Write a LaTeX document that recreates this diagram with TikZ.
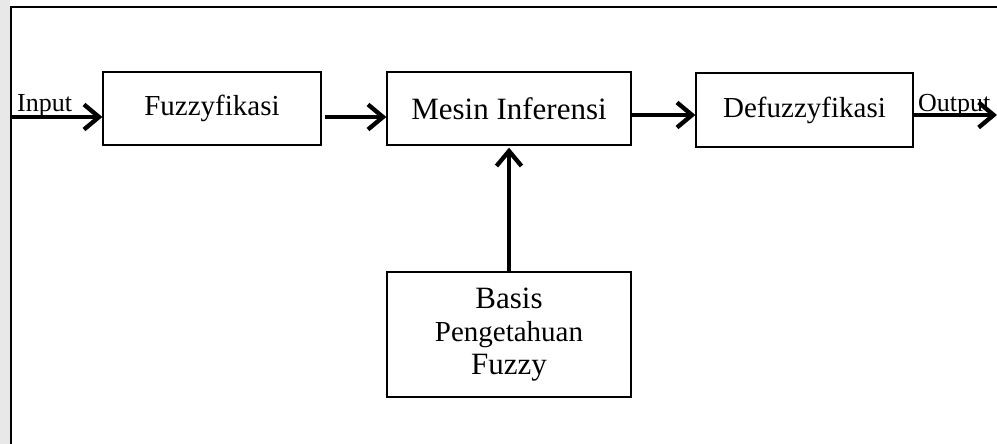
\documentclass[tikz,border=0pt]{standalone}
\usepackage{fontspec}
\setmainfont{Liberation Serif}
\usetikzlibrary{arrows.meta}
\begin{document}
\begin{tikzpicture}[x=1pt,y=-1pt,
  blk/.style={draw,line width=1.3pt,minimum width=#1,inner sep=0pt,font=\fontsize{29}{33}\selectfont,align=center},
  conn/.style={line width=4.3pt,-{Straight Barb[length=15pt,width=25pt,line width=4.3pt]}},
  lbl/.style={inner sep=0pt,font=\fontsize{26}{30}\selectfont}]
\useasboundingbox (0,0) rectangle (997,444);
\fill[gray!18] (0,0) rectangle (10,444);
\draw[line width=2.8pt] (997,7) -- (11,7) -- (11,444);
\node[blk=218pt,minimum height=73pt] (fuzz) at (212,108.5) {\raisebox{-3pt}{Fuzzyfikasi}};
\node[blk=244pt,minimum height=73pt] (mesin) at (509,108.5) {\fontsize{31}{33}\selectfont\raisebox{-3pt}{Mesin Inferensi}};
\node[blk=217pt,minimum height=74pt] (defuzz) at (804.5,110) {\raisebox{-3pt}{Defuzzyfikasi}};
\node[blk=244pt,minimum height=125pt] (basis) at (509,334.5) {\raisebox{-4pt}{\begin{tabular}{@{}c@{}}\fontsize{31}{33}\selectfont Basis\\Pengetahuan\\\fontsize{31}{33}\selectfont Fuzzy\end{tabular}}};
\coordinate (inS) at (11,117);
\coordinate (fzE) at (325,117);
\coordinate (mzE) at (632,115);
\coordinate (outE) at (997,115);
\coordinate (dzE) at (913,115);
\draw[conn] (inS) -- (inS -| fuzz.west);
\draw[conn] (fzE) -- (fzE -| mesin.west);
\draw[conn] (mzE) -- (mzE -| defuzz.west);
\draw[conn] (dzE) -- (outE);
\draw[conn] (basis.north) -- ([yshift=-2pt]mesin.south);
\node[lbl,anchor=base west] (inlbl) at (17,111) {Input};
\node[lbl,anchor=base west] (outlbl) at (918,112) {Output};
\end{tikzpicture}
\end{document}
